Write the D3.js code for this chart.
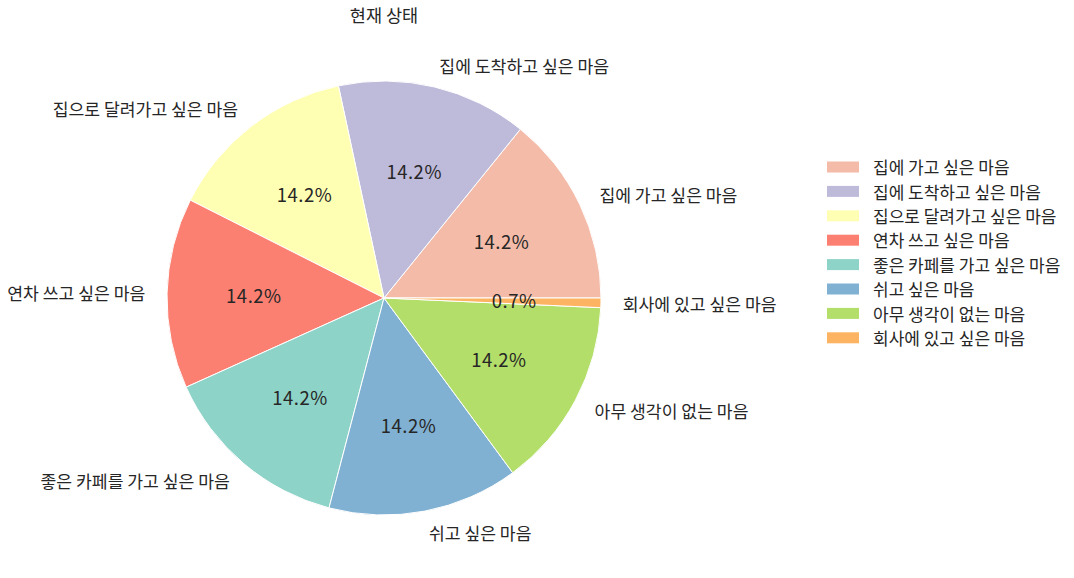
<!DOCTYPE html>
<html><head><meta charset="utf-8">
<script src="https://cdn.jsdelivr.net/npm/d3@7"></script>
<style>body{margin:0;background:#fff}svg text{font-family:"Noto Sans CJK KR","Noto Sans",sans-serif;fill:#262626}</style>
</head><body><svg id="c" width="1074" height="578"></svg>
<script>
const categories = ["집에 가고 싶은 마음","집에 도착하고 싶은 마음","집으로 달려가고 싶은 마음","연차 쓰고 싶은 마음","좋은 카페를 가고 싶은 마음","쉬고 싶은 마음","아무 생각이 없는 마음","회사에 있고 싶은 마음"];
const values = [20,20,20,20,20,20,20,1];
const colors = ["#f4bba9","#bebada","#ffffb3","#fb8072","#8dd3c7","#80b1d3","#b3de69","#fdb462"];
const title = "현재 상태";

const svg = d3.select("#c");
const cx = 384, cy = 298, r = 217;
const total = d3.sum(values);
// matplotlib: start at 0 rad (3 o'clock), counterclockwise
const pie = d3.pie().sort(null).value(d=>d).startAngle(Math.PI/2).endAngle(Math.PI/2 - 2*Math.PI);
const arcs = pie(values);
const arc = d3.arc().innerRadius(0).outerRadius(r);
const g = svg.append("g").attr("transform",`translate(${cx},${cy})`);
g.selectAll("path").data(arcs).enter().append("path")
  .attr("d",arc).attr("fill",(d,i)=>colors[i]).attr("stroke","#fff").attr("stroke-width",1);
function pos(d,f){const a=(d.startAngle+d.endAngle)/2;return [f*r*Math.sin(a),-f*r*Math.cos(a)];}
g.selectAll("text.lab").data(arcs).enter().append("text").attr("class","lab")
  .attr("x",d=>pos(d,1.1)[0]).attr("y",d=>pos(d,1.1)[1]).attr("dy","0.42em")
  .attr("text-anchor",d=>pos(d,1.1)[0]>0?"start":"end").style("font-size","17.2px")
  .text((d,i)=>categories[i]);
g.selectAll("text.pct").data(arcs).enter().append("text").attr("class","pct")
  .attr("x",d=>pos(d,0.6)[0]).attr("y",d=>pos(d,0.6)[1]).attr("dy","0.4em")
  .attr("text-anchor","middle").style("font-size","18.5px").style("letter-spacing","0.5px")
  .text(d=>(d.value/total*100).toFixed(1)+"%");
svg.append("text").attr("x",384).attr("y",15).attr("dy","0.4em").attr("text-anchor","middle").style("font-size","17.5px").text(title);
const lg = svg.append("g").attr("transform","translate(827,167)");
const rows = lg.selectAll("g").data(categories).enter().append("g").attr("transform",(d,i)=>`translate(0,${i*24.4})`);
rows.append("rect").attr("x",0).attr("y",-5.5).attr("width",32).attr("height",11).attr("fill",(d,i)=>colors[i]);
rows.append("text").attr("x",46).attr("y",0).attr("dy","0.42em").style("font-size","17px").text(d=>d);
</script></body></html>
